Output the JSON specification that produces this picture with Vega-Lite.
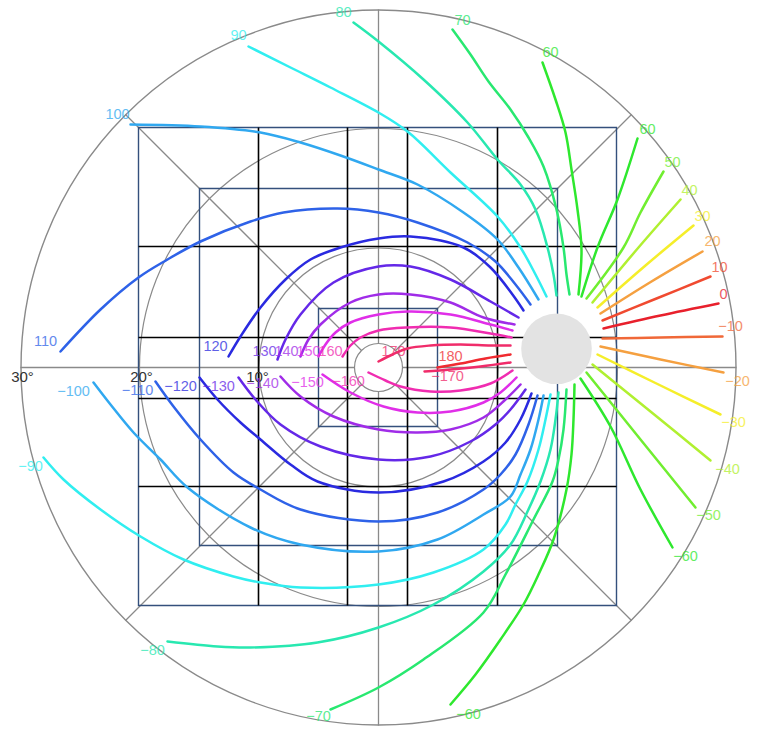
{
  "$schema": "https://vega.github.io/schema/vega-lite/v6.json",
  "width": 757,
  "height": 734,
  "padding": 0,
  "autosize": {"type": "none"},
  "background": "white",
  "config": {"view": {"stroke": null}},
  "datasets": {
    "center": [{"x": 0, "y": 0}],
    "disc": [{"x": 178, "y": 18.7}],
    "axes": [
      {"x": -358, "y": 0, "x2": -24, "y2": 0},
      {"x": 24, "y": 0, "x2": 358, "y2": 0},
      {"x": 0, "y": 24, "x2": 0, "y2": 358},
      {"x": 0, "y": -24, "x2": 0, "y2": -358},
      {"x": 17, "y": 17, "x2": 253, "y2": 253},
      {"x": -17, "y": 17, "x2": -253, "y2": 253},
      {"x": 17, "y": -17, "x2": 253, "y2": -253},
      {"x": -17, "y": -17, "x2": -253, "y2": -253}
    ],
    "squares": [
      {"x": -240, "x2": 238, "y": 240, "y2": -238},
      {"x": -179, "x2": 179, "y": 179, "y2": -178},
      {"x": -60, "x2": 59, "y": 59, "y2": -59}
    ],
    "grid": [
      {"x": -120, "y": 240, "x2": -120, "y2": -238},
      {"x": -31, "y": 240, "x2": -31, "y2": -238},
      {"x": 29, "y": 240, "x2": 29, "y2": -238},
      {"x": 119, "y": 240, "x2": 119, "y2": -238},
      {"x": -240, "y": 121, "x2": 238, "y2": 121},
      {"x": -240, "y": 30, "x2": 238, "y2": 30},
      {"x": -240, "y": -31, "x2": 238, "y2": -31},
      {"x": -240, "y": -119, "x2": 238, "y2": -119}
    ],
    "deg": [
      {"t": "30°", "x": -356, "y": -9},
      {"t": "20°", "x": -237, "y": -9},
      {"t": "10°", "x": -121, "y": -9}
    ],
    "curves": [
      {"k": "p0", "x": 225, "y": 39}, {"k": "p0", "x": 282, "y": 52}, {"k": "p0", "x": 340, "y": 64},
      {"k": "p10", "x": 224, "y": 47}, {"k": "p10", "x": 278, "y": 69}, {"k": "p10", "x": 332, "y": 91},
      {"k": "p20", "x": 222, "y": 54}, {"k": "p20", "x": 273, "y": 86}, {"k": "p20", "x": 324, "y": 116},
      {"k": "p30", "x": 219, "y": 60}, {"k": "p30", "x": 267, "y": 102}, {"k": "p30", "x": 315, "y": 142},
      {"k": "p40", "x": 214, "y": 65}, {"k": "p40", "x": 260, "y": 120}, {"k": "p40", "x": 302, "y": 168},
      {"k": "p50", "x": 208, "y": 69}, {"k": "p50", "x": 245, "y": 120}, {"k": "p50", "x": 262, "y": 155}, {"k": "p50", "x": 285, "y": 196},
      {"k": "p60r", "x": 203, "y": 71}, {"k": "p60r", "x": 219, "y": 120}, {"k": "p60r", "x": 239, "y": 168}, {"k": "p60r", "x": 259, "y": 229},
      {"k": "p60t", "x": 200, "y": 73}, {"k": "p60t", "x": 203, "y": 118}, {"k": "p60t", "x": 199, "y": 158}, {"k": "p60t", "x": 193, "y": 198}, {"k": "p60t", "x": 187, "y": 235}, {"k": "p60t", "x": 177, "y": 268}, {"k": "p60t", "x": 164, "y": 305},
      {"k": "p70", "x": 191, "y": 73}, {"k": "p70", "x": 188, "y": 93}, {"k": "p70", "x": 185, "y": 120}, {"k": "p70", "x": 178, "y": 158}, {"k": "p70", "x": 165, "y": 201}, {"k": "p70", "x": 150, "y": 230}, {"k": "p70", "x": 132, "y": 258}, {"k": "p70", "x": 110, "y": 286}, {"k": "p70", "x": 92, "y": 313}, {"k": "p70", "x": 74, "y": 338},
      {"k": "p80", "x": 178, "y": 72}, {"k": "p80", "x": 175, "y": 93}, {"k": "p80", "x": 169, "y": 120}, {"k": "p80", "x": 157, "y": 158}, {"k": "p80", "x": 142, "y": 183}, {"k": "p80", "x": 119, "y": 208}, {"k": "p80", "x": 89, "y": 245}, {"k": "p80", "x": 45, "y": 288}, {"k": "p80", "x": 0, "y": 326}, {"k": "p80", "x": -25, "y": 345},
      {"k": "p90", "x": 168, "y": 71}, {"k": "p90", "x": 157, "y": 93}, {"k": "p90", "x": 142, "y": 120}, {"k": "p90", "x": 119, "y": 151}, {"k": "p90", "x": 72, "y": 195}, {"k": "p90", "x": 29, "y": 236}, {"k": "p90", "x": 0, "y": 255}, {"k": "p90", "x": -48, "y": 280}, {"k": "p90", "x": -88, "y": 300}, {"k": "p90", "x": -130, "y": 321},
      {"k": "p100", "x": 160, "y": 68}, {"k": "p100", "x": 140, "y": 100}, {"k": "p100", "x": 119, "y": 128}, {"k": "p100", "x": 85, "y": 155}, {"k": "p100", "x": 39, "y": 183}, {"k": "p100", "x": 0, "y": 198}, {"k": "p100", "x": -38, "y": 212}, {"k": "p100", "x": -78, "y": 225}, {"k": "p100", "x": -118, "y": 235}, {"k": "p100", "x": -178, "y": 241}, {"k": "p100", "x": -248, "y": 243},
      {"k": "p110", "x": 152, "y": 63}, {"k": "p110", "x": 137, "y": 83}, {"k": "p110", "x": 117, "y": 106}, {"k": "p110", "x": 89, "y": 125}, {"k": "p110", "x": 39, "y": 145}, {"k": "p110", "x": 0, "y": 155}, {"k": "p110", "x": -41, "y": 159}, {"k": "p110", "x": -95, "y": 155}, {"k": "p110", "x": -128, "y": 146}, {"k": "p110", "x": -178, "y": 126}, {"k": "p110", "x": -211, "y": 108}, {"k": "p110", "x": -240, "y": 90}, {"k": "p110", "x": -278, "y": 58}, {"k": "p110", "x": -318, "y": 16},
      {"k": "p120", "x": 145, "y": 57}, {"k": "p120", "x": 134, "y": 73}, {"k": "p120", "x": 112, "y": 100}, {"k": "p120", "x": 85, "y": 120}, {"k": "p120", "x": 32, "y": 131}, {"k": "p120", "x": 0, "y": 129}, {"k": "p120", "x": -38, "y": 120}, {"k": "p120", "x": -68, "y": 108}, {"k": "p120", "x": -93, "y": 88}, {"k": "p120", "x": -118, "y": 60}, {"k": "p120", "x": -138, "y": 31}, {"k": "p120", "x": -150, "y": 11},
      {"k": "p130", "x": 140, "y": 50}, {"k": "p130", "x": 112, "y": 66}, {"k": "p130", "x": 72, "y": 88}, {"k": "p130", "x": 32, "y": 101}, {"k": "p130", "x": 0, "y": 101}, {"k": "p130", "x": -45, "y": 85}, {"k": "p130", "x": -78, "y": 53}, {"k": "p130", "x": -93, "y": 28}, {"k": "p130", "x": -101, "y": 8},
      {"k": "p140", "x": 136, "y": 43}, {"k": "p140", "x": 105, "y": 50}, {"k": "p140", "x": 72, "y": 65}, {"k": "p140", "x": 32, "y": 73}, {"k": "p140", "x": 0, "y": 73}, {"k": "p140", "x": -28, "y": 65}, {"k": "p140", "x": -58, "y": 43}, {"k": "p140", "x": -70, "y": 28}, {"k": "p140", "x": -78, "y": 11},
      {"k": "p150", "x": 134, "y": 37}, {"k": "p150", "x": 112, "y": 43}, {"k": "p150", "x": 72, "y": 53}, {"k": "p150", "x": 29, "y": 56}, {"k": "p150", "x": 0, "y": 53}, {"k": "p150", "x": -28, "y": 45}, {"k": "p150", "x": -43, "y": 35}, {"k": "p150", "x": -53, "y": 23}, {"k": "p150", "x": -60, "y": 11},
      {"k": "p160", "x": 133, "y": 30}, {"k": "p160", "x": 112, "y": 34}, {"k": "p160", "x": 72, "y": 40}, {"k": "p160", "x": 29, "y": 40}, {"k": "p160", "x": 0, "y": 37}, {"k": "p160", "x": -18, "y": 30}, {"k": "p160", "x": -28, "y": 22}, {"k": "p160", "x": -36, "y": 11},
      {"k": "p170", "x": 132, "y": 22}, {"k": "p170", "x": 112, "y": 22}, {"k": "p170", "x": 82, "y": 23}, {"k": "p170", "x": 52, "y": 22}, {"k": "p170", "x": 29, "y": 19}, {"k": "p170", "x": 14, "y": 13}, {"k": "p170", "x": 0, "y": 6},
      {"k": "p180", "x": 132, "y": 13}, {"k": "p180", "x": 107, "y": 9}, {"k": "p180", "x": 82, "y": 4}, {"k": "p180", "x": 59, "y": 0},
      {"k": "m170", "x": 132, "y": 5}, {"k": "m170", "x": 102, "y": 1}, {"k": "m170", "x": 72, "y": -2}, {"k": "m170", "x": 46, "y": -4},
      {"k": "m160", "x": 134, "y": -3}, {"k": "m160", "x": 112, "y": -16}, {"k": "m160", "x": 82, "y": -23}, {"k": "m160", "x": 52, "y": -24}, {"k": "m160", "x": 22, "y": -19}, {"k": "m160", "x": 7, "y": -13}, {"k": "m160", "x": -10, "y": -5},
      {"k": "m150", "x": 138, "y": -10}, {"k": "m150", "x": 122, "y": -25}, {"k": "m150", "x": 105, "y": -35}, {"k": "m150", "x": 72, "y": -44}, {"k": "m150", "x": 39, "y": -45}, {"k": "m150", "x": 5, "y": -39}, {"k": "m150", "x": -28, "y": -25}, {"k": "m150", "x": -56, "y": -7},
      {"k": "m140", "x": 142, "y": -17}, {"k": "m140", "x": 127, "y": -32}, {"k": "m140", "x": 105, "y": -50}, {"k": "m140", "x": 72, "y": -62}, {"k": "m140", "x": 39, "y": -65}, {"k": "m140", "x": 0, "y": -62}, {"k": "m140", "x": -45, "y": -49}, {"k": "m140", "x": -78, "y": -29}, {"k": "m140", "x": -98, "y": -9},
      {"k": "m130", "x": 147, "y": -22}, {"k": "m130", "x": 132, "y": -42}, {"k": "m130", "x": 117, "y": -57}, {"k": "m130", "x": 92, "y": -74}, {"k": "m130", "x": 52, "y": -89}, {"k": "m130", "x": 0, "y": -92}, {"k": "m130", "x": -58, "y": -79}, {"k": "m130", "x": -98, "y": -57}, {"k": "m130", "x": -123, "y": -32}, {"k": "m130", "x": -140, "y": -10},
      {"k": "m120", "x": 153, "y": -26}, {"k": "m120", "x": 142, "y": -52}, {"k": "m120", "x": 127, "y": -75}, {"k": "m120", "x": 105, "y": -94}, {"k": "m120", "x": 65, "y": -114}, {"k": "m120", "x": 0, "y": -125}, {"k": "m120", "x": -61, "y": -114}, {"k": "m120", "x": -88, "y": -97}, {"k": "m120", "x": -118, "y": -72}, {"k": "m120", "x": -138, "y": -55}, {"k": "m120", "x": -161, "y": -32}, {"k": "m120", "x": -179, "y": -10},
      {"k": "m110", "x": 159, "y": -28}, {"k": "m110", "x": 150, "y": -57}, {"k": "m110", "x": 137, "y": -87}, {"k": "m110", "x": 122, "y": -107}, {"k": "m110", "x": 105, "y": -122}, {"k": "m110", "x": 59, "y": -145}, {"k": "m110", "x": 0, "y": -154}, {"k": "m110", "x": -78, "y": -142}, {"k": "m110", "x": -118, "y": -122}, {"k": "m110", "x": -145, "y": -105}, {"k": "m110", "x": -178, "y": -72}, {"k": "m110", "x": -205, "y": -39}, {"k": "m110", "x": -223, "y": -14},
      {"k": "m100", "x": 165, "y": -28}, {"k": "m100", "x": 160, "y": -52}, {"k": "m100", "x": 152, "y": -82}, {"k": "m100", "x": 142, "y": -107}, {"k": "m100", "x": 132, "y": -129}, {"k": "m100", "x": 105, "y": -147}, {"k": "m100", "x": 59, "y": -172}, {"k": "m100", "x": 0, "y": -184}, {"k": "m100", "x": -78, "y": -177}, {"k": "m100", "x": -128, "y": -160}, {"k": "m100", "x": -191, "y": -120}, {"k": "m100", "x": -218, "y": -92}, {"k": "m100", "x": -245, "y": -65}, {"k": "m100", "x": -268, "y": -37}, {"k": "m100", "x": -285, "y": -15},
      {"k": "m90", "x": 172, "y": -27}, {"k": "m90", "x": 167, "y": -52}, {"k": "m90", "x": 160, "y": -82}, {"k": "m90", "x": 149, "y": -114}, {"k": "m90", "x": 137, "y": -137}, {"k": "m90", "x": 127, "y": -157}, {"k": "m90", "x": 105, "y": -182}, {"k": "m90", "x": 55, "y": -205}, {"k": "m90", "x": 0, "y": -217}, {"k": "m90", "x": -78, "y": -220}, {"k": "m90", "x": -118, "y": -215}, {"k": "m90", "x": -145, "y": -209}, {"k": "m90", "x": -195, "y": -192}, {"k": "m90", "x": -238, "y": -169}, {"k": "m90", "x": -278, "y": -142}, {"k": "m90", "x": -315, "y": -112}, {"k": "m90", "x": -335, "y": -90},
      {"k": "m80", "x": 180, "y": -25}, {"k": "m80", "x": 177, "y": -52}, {"k": "m80", "x": 172, "y": -82}, {"k": "m80", "x": 162, "y": -114}, {"k": "m80", "x": 149, "y": -144}, {"k": "m80", "x": 132, "y": -177}, {"k": "m80", "x": 105, "y": -204}, {"k": "m80", "x": 55, "y": -237}, {"k": "m80", "x": 0, "y": -260}, {"k": "m80", "x": -61, "y": -275}, {"k": "m80", "x": -128, "y": -280}, {"k": "m80", "x": -161, "y": -279}, {"k": "m80", "x": -211, "y": -274},
      {"k": "m70", "x": 188, "y": -22}, {"k": "m70", "x": 185, "y": -62}, {"k": "m70", "x": 180, "y": -92}, {"k": "m70", "x": 174, "y": -114}, {"k": "m70", "x": 155, "y": -152}, {"k": "m70", "x": 127, "y": -207}, {"k": "m70", "x": 105, "y": -245}, {"k": "m70", "x": 45, "y": -292}, {"k": "m70", "x": 0, "y": -320}, {"k": "m70", "x": -48, "y": -342},
      {"k": "m60b", "x": 196, "y": -17}, {"k": "m60b", "x": 195, "y": -52}, {"k": "m60b", "x": 193, "y": -87}, {"k": "m60b", "x": 188, "y": -122}, {"k": "m60b", "x": 175, "y": -172}, {"k": "m60b", "x": 160, "y": -207}, {"k": "m60b", "x": 145, "y": -237}, {"k": "m60b", "x": 122, "y": -272}, {"k": "m60b", "x": 97, "y": -307}, {"k": "m60b", "x": 72, "y": -337},
      {"k": "m60r", "x": 202, "y": -11}, {"k": "m60r", "x": 232, "y": -59}, {"k": "m60r", "x": 262, "y": -122}, {"k": "m60r", "x": 294, "y": -180},
      {"k": "m50", "x": 208, "y": -5}, {"k": "m50", "x": 262, "y": -72}, {"k": "m50", "x": 317, "y": -140},
      {"k": "m40", "x": 214, "y": 3}, {"k": "m40", "x": 272, "y": -44}, {"k": "m40", "x": 332, "y": -93},
      {"k": "m30", "x": 219, "y": 13}, {"k": "m30", "x": 280, "y": -17}, {"k": "m30", "x": 342, "y": -47},
      {"k": "m20", "x": 222, "y": 21}, {"k": "m20", "x": 282, "y": 8}, {"k": "m20", "x": 345, "y": -5},
      {"k": "m10", "x": 224, "y": 29}, {"k": "m10", "x": 282, "y": 30}, {"k": "m10", "x": 344, "y": 31}
    ],
    "labels": [
      {"k": "p0", "t": "0", "x": 345, "y": 73},
      {"k": "p10", "t": "10", "x": 341, "y": 100},
      {"k": "p20", "t": "20", "x": 334, "y": 126},
      {"k": "p30", "t": "30", "x": 324, "y": 151},
      {"k": "p40", "t": "40", "x": 311, "y": 177},
      {"k": "p50", "t": "50", "x": 294, "y": 205},
      {"k": "p60r", "t": "60", "x": 269, "y": 238},
      {"k": "p60t", "t": "60", "x": 172, "y": 315},
      {"k": "p70", "t": "70", "x": 84, "y": 347},
      {"k": "p80", "t": "80", "x": -35, "y": 355},
      {"k": "p90", "t": "90", "x": -140, "y": 332},
      {"k": "p100", "t": "100", "x": -261, "y": 253},
      {"k": "p110", "t": "110", "x": -333, "y": 26},
      {"k": "p120", "t": "120", "x": -163, "y": 21},
      {"k": "p130", "t": "130", "x": -114, "y": 16},
      {"k": "p140", "t": "140", "x": -92, "y": 16},
      {"k": "p150", "t": "150", "x": -70, "y": 16},
      {"k": "p160", "t": "160", "x": -48, "y": 16},
      {"k": "p170", "t": "170", "x": 15, "y": 16},
      {"k": "p180", "t": "180", "x": 72, "y": 11},
      {"k": "m170", "t": "−170", "x": 69, "y": -9},
      {"k": "m160", "t": "−160", "x": -30, "y": -14},
      {"k": "m150", "t": "−150", "x": -71, "y": -15},
      {"k": "m140", "t": "−140", "x": -116, "y": -16},
      {"k": "m130", "t": "−130", "x": -160, "y": -19},
      {"k": "m120", "t": "−120", "x": -198, "y": -19},
      {"k": "m110", "t": "−110", "x": -241, "y": -23},
      {"k": "m100", "t": "−100", "x": -305, "y": -24},
      {"k": "m90", "t": "−90", "x": -348, "y": -99},
      {"k": "m80", "t": "−80", "x": -226, "y": -283},
      {"k": "m70", "t": "−70", "x": -60, "y": -349},
      {"k": "m60b", "t": "−60", "x": 90, "y": -347},
      {"k": "m60r", "t": "−60", "x": 307, "y": -189},
      {"k": "m50", "t": "−50", "x": 330, "y": -148},
      {"k": "m40", "t": "−40", "x": 349, "y": -102},
      {"k": "m30", "t": "−30", "x": 355, "y": -55},
      {"k": "m20", "t": "−20", "x": 359, "y": -14},
      {"k": "m10", "t": "−10", "x": 352, "y": 41}
    ]
  },
  "encoding": {
    "x": {"field": "x", "type": "quantitative", "scale": {"domain": [-378.5, 378.5], "nice": false, "zero": false}, "axis": null},
    "y": {"field": "y", "type": "quantitative", "scale": {"domain": [-366.5, 367.5], "nice": false, "zero": false}, "axis": null}
  },
  "layer": [
    {"data": {"name": "center"}, "mark": {"type": "point", "shape": "circle", "filled": false, "stroke": "#8a8a8a", "strokeWidth": 1.4, "opacity": 1, "size": 511225}},
    {"data": {"name": "center"}, "mark": {"type": "point", "shape": "circle", "filled": false, "stroke": "#8a8a8a", "strokeWidth": 1.2, "opacity": 1, "size": 228484}},
    {"data": {"name": "center"}, "mark": {"type": "point", "shape": "circle", "filled": false, "stroke": "#8a8a8a", "strokeWidth": 1.2, "opacity": 1, "size": 57121}},
    {"data": {"name": "center"}, "mark": {"type": "point", "shape": "circle", "filled": false, "stroke": "#8a8a8a", "strokeWidth": 1.2, "opacity": 1, "size": 2304}},
    {"data": {"name": "axes"}, "mark": {"type": "rule", "stroke": "#8a8a8a", "strokeWidth": 1.3},
     "encoding": {"x2": {"field": "x2"}, "y2": {"field": "y2"}}},
    {"data": {"name": "squares"}, "mark": {"type": "rect", "filled": false, "stroke": "#34507c", "strokeWidth": 1.4},
     "encoding": {"x2": {"field": "x2"}, "y2": {"field": "y2"}}},
    {"data": {"name": "grid"}, "mark": {"type": "rule", "stroke": "#000000", "strokeWidth": 1.6},
     "encoding": {"x2": {"field": "x2"}, "y2": {"field": "y2"}}},
    {"data": {"name": "curves"}, "mark": {"type": "line", "interpolate": "catmull-rom", "strokeWidth": 2.5, "strokeCap": "round"},
     "encoding": {
       "color": {"field": "k", "type": "nominal", "legend": null,
         "scale": {
           "domain": ["p0","p10","p20","p30","p40","p50","p60r","p60t","p70","p80","p90","p100","p110","p120","p130","p140","p150","p160","p170","p180","m170","m160","m150","m140","m130","m120","m110","m100","m90","m80","m70","m60b","m60r","m50","m40","m30","m20","m10"],
           "range": ["#e8202c","#f04a30","#f5a040","#f5ee2a","#b0f030","#70ee30","#2ee82e","#2ee82e","#28e870","#28e8b0","#30eef0","#30a8f0","#2e62e8","#2a2ae0","#6428e8","#a02ce8","#e02ee8","#f02cb0","#f02c6a","#f02a30","#f02c6a","#f02cb0","#e02ee8","#a02ce8","#6428e8","#2a2ae0","#2e62e8","#30a8f0","#30eef0","#28e8b0","#28e870","#2ee82e","#2ee82e","#70ee30","#b0f030","#f5ee2a","#f5a040","#f06838"]
         }},
       "order": {"value": null}
     }},
    {"data": {"name": "disc"}, "mark": {"type": "point", "shape": "circle", "filled": true, "fill": "#e3e3e3", "strokeWidth": 0, "opacity": 1, "size": 4984}},
    {"data": {"name": "deg"}, "mark": {"type": "text", "font": "Liberation Sans", "fontSize": 15, "color": "#333333", "align": "center", "baseline": "middle"},
     "encoding": {"text": {"field": "t"}}},
    {"data": {"name": "labels"}, "mark": {"type": "text", "font": "Liberation Sans", "fontSize": 14.5, "align": "center", "baseline": "middle", "opacity": 0.75},
     "encoding": {"text": {"field": "t"}, "color": {"field": "k", "type": "nominal", "legend": null}}}
  ]
}
